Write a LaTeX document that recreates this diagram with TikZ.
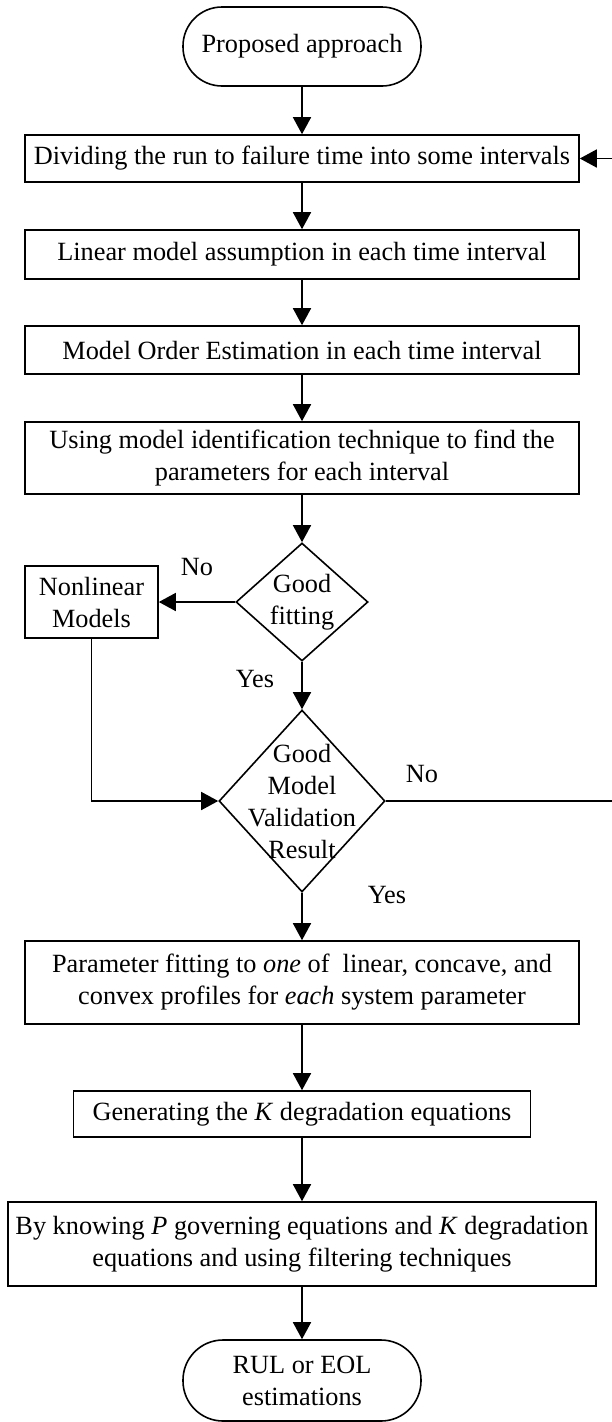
\documentclass[tikz,border=0pt]{standalone}
\usepackage{fontspec}
\setmainfont{Liberation Serif}
\usetikzlibrary{shapes.geometric,arrows.meta}

\begin{document}
\begin{tikzpicture}[x=1pt,y=-1pt,
  every node/.style={font=\fontsize{26.3}{32}\selectfont},
  stepbox/.style={draw,line width=1.6pt,align=center,inner sep=0pt},
  term/.style={draw,line width=1.6pt,align=center,inner sep=0pt,minimum width=238pt},
  dec/.style={draw,diamond,line width=1.6pt,inner sep=0pt},
  flow/.style={line width=1.6pt,-{Triangle[length=17pt,width=18pt]}},
  lbl/.style={align=center,inner sep=0pt}
]
\useasboundingbox (0,0) rectangle (612,1422);

% process steps
\node[term, minimum height=79pt, rounded corners=39pt] (start) at (302,46.5) {Proposed approach};
\node[stepbox, minimum width=554pt, minimum height=47pt] (b1) at (302,158.5)
  {Dividing the run to failure time into some intervals};
\node[stepbox, minimum width=554pt, minimum height=49pt] (b2) at (302,254.5)
  {Linear model assumption in each time interval};
\node[stepbox, minimum width=554pt, minimum height=48pt] (b3) at (302,350)
  {Model Order Estimation in each time interval};
\node[stepbox, minimum width=554pt, minimum height=72pt] (b4) at (302,458)
  {Using model identification technique to find the\\parameters for each interval};
\node[dec, minimum width=132pt, minimum height=118pt,
  label={[lbl]center:{Good\\fitting}}] (d1) at (302,602) {};
\node[stepbox, minimum width=133pt, minimum height=72pt] (nl) at (91.5,602)
  {Nonlinear\\Models};
\node[dec, minimum width=166pt, minimum height=182pt,
  label={[lbl]center:{Good\\Model\\Validation\\Result}}] (d2) at (302,801) {};
\node[stepbox, minimum width=554pt, minimum height=83pt] (b5) at (302,982.5)
  {Parameter fitting to \textit{one} of~ linear, concave, and\\convex profiles for \textit{each} system parameter};
\node[stepbox, minimum width=457pt, minimum height=46pt] (b6) at (302,1114)
  {Generating the \textit{K} degradation equations};
\node[stepbox, minimum width=588pt, minimum height=84pt] (b7) at (302,1244)
  {By knowing \textit{P} governing equations and \textit{K} degradation\\equations and using filtering techniques};
\node[term, minimum height=81pt, rounded corners=40pt] (stop) at (302,1380.5)
  {RUL or EOL\\estimations};

% branch labels
\node[lbl] (no1) at (197,567) {No};
\node[lbl] (yes1) at (255,679) {Yes};
\node[lbl] (no2) at (422,774) {No};
\node[lbl] (yes2) at (387,895) {Yes};

% connectors
\draw[flow] (start) -- (b1);
\draw[flow] (b1) -- (b2);
\draw[flow] (b2) -- (b3);
\draw[flow] (b3) -- (b4);
\draw[flow] (b4) -- (d1);
\draw[flow] (d1.west) -- (nl.east);
\draw[flow] (d1.south) -- (d2.north);
\draw[flow] (nl.south) |- (d2.west);
\draw[flow] (d2.south) -- (b5.north);
\draw[flow] (b5) -- (b6);
\draw[flow] (b6) -- (b7);
\draw[flow] (b7) -- (stop);
\draw[flow] (d2.east) -- (613.5,801) |- (b1.east);
\end{tikzpicture}
\end{document}
